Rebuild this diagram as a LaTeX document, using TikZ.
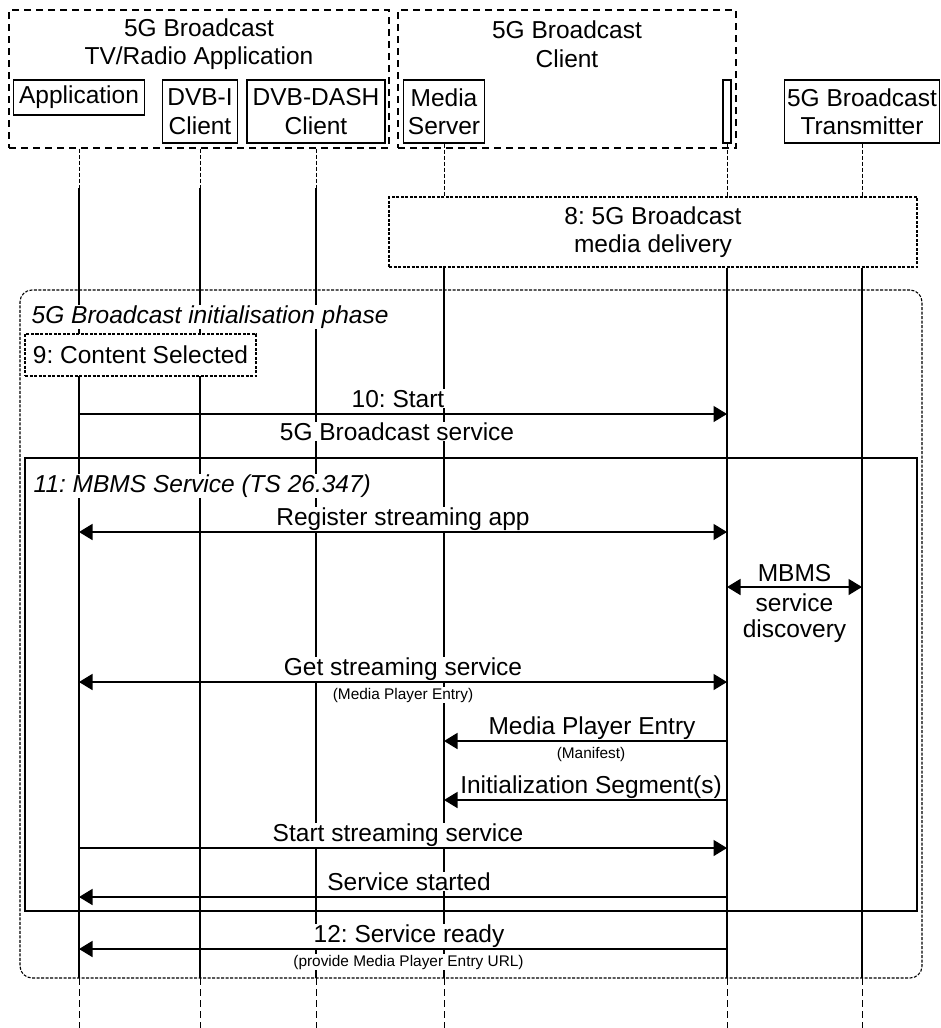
\documentclass[tikz,border=0pt]{standalone}
\usepackage{fontspec}
\setmainfont{Liberation Sans}
\usetikzlibrary{arrows.meta}
\frenchspacing

\tikzset{
  txt/.style={font=\fontsize{24.5}{28.5}\selectfont},
  ttl/.style={fill=white, inner sep=0.5pt, anchor=base west, font=\fontsize{24.5}{28.5}\selectfont\itshape},
  party/.style={draw, line width=1.3pt, inner sep=0pt, align=center, txt},
  grp/.style={draw, line width=1.3pt, dash pattern=on 7pt off 5pt},
  fine/.style={draw, line width=1.1pt, dash pattern=on 3pt off 1.5pt},
  life/.style={line width=1.3pt},
  lifedash/.style={line width=1pt, dash pattern=on 4pt off 2pt},
  lifeend/.style={line width=1pt, dash pattern=on 7pt off 4pt},
  lbl/.style={fill=white, inner sep=0.5pt, anchor=base, txt},
  over/.style={lbl, yshift=7pt},
  under/.style={lbl, yshift=-26pt},
  note/.style={fill=white, inner sep=0.5pt, anchor=base, yshift=-17pt, font=\fontsize{15.4}{18}\selectfont},
  msg/.style={line width=1.6pt, -{Triangle[length=13.5pt,width=16pt]}},
  dmsg/.style={line width=1.6pt, {Triangle[length=13.5pt,width=16pt]}-{Triangle[length=13.5pt,width=16pt]}},
}

\begin{document}
\begin{tikzpicture}[x=1pt, y=-1pt]
\useasboundingbox (0,0) rectangle (940,1028);

\node[grp, minimum width=380pt, minimum height=138pt] (grpapp) at (199,79) {};
\node[txt, align=center] (grpapptitle) at (199,44) {5G Broadcast\\TV/Radio Application};
\node[grp, minimum width=338pt, minimum height=138pt] (grpcl) at (567,79) {};
\node[txt, align=center] (grpcltitle) at (567,44) {5G Broadcast\\Client};

\node[party, minimum width=131pt, minimum height=35pt] (app) at (79,97.5) {Application};
\node[party, minimum width=75pt, minimum height=63pt] (dvbi) at (200,111.5) {DVB-I\\Client};
\node[party, minimum width=138pt, minimum height=63pt] (dash) at (316,111.5) {DVB-DASH\\Client};
\node[party, minimum width=81pt, minimum height=63pt] (ms) at (444,111.5) {Media\\Server};
\node[party, minimum width=8pt, minimum height=63pt] (cl) at (727,111.5) {};
\node[party, minimum width=155pt, minimum height=63pt] (tx) at (862,111.5) {5G Broadcast\\Transmitter};

\node[fine, fill=white, minimum width=528pt, minimum height=70pt, txt, align=center] (deliv) at (653,232) {8: 5G Broadcast\\media delivery};

\foreach \p in {app,dvbi,dash} {
  \draw[lifedash] (\p |- grpapp.south) -- (\p |- 0,188);
  \draw[life] (\p |- 0,188) -- (\p |- 0,978);
  \draw[lifeend] (\p |- 0,978) -- (\p |- 0,1028);
}
\foreach \p in {ms,cl,tx} {
  \draw[lifedash] (\p.south) -- (\p |- deliv.north);
  \draw[life] (\p |- deliv.south) -- (\p |- 0,978);
  \draw[lifeend] (\p |- 0,978) -- (\p |- 0,1028);
}

\node[fine, rounded corners=12pt, minimum width=902pt, minimum height=688pt] (phase) at (471,634) {};
\node[ttl] (phasetitle) at (31,323) {5G Broadcast initialisation phase};
\node[fine, fill=white, minimum width=231pt, minimum height=42pt, txt] (sel) at (140.5,355) {9: Content Selected};

\draw[msg] (app |- 0,414) -- node[over, xshift=-5pt] (start) {10: Start} node[under, xshift=-6pt] (startb) {5G Broadcast service} (cl |- 0,414);

\node[draw, line width=1.3pt, minimum width=892pt, minimum height=453pt] (mbms) at (471,684.5) {};
\node[ttl] (mbmstitle) at (33,492) {11: MBMS Service (TS 26.347)};

\draw[dmsg] (app |- 0,532) -- node[over] (reg) {Register streaming app} (cl |- 0,532);
\draw[dmsg] (cl |- 0,587) -- node[over, yshift=-1pt] (disca) {MBMS} (tx |- 0,587);
\node[txt, align=center, anchor=north, inner sep=0pt, font=\fontsize{24.5}{25.5}\selectfont] (disc) at (794.5,594) {service\\discovery};
\draw[dmsg] (app |- 0,682) -- node[over] (get) {Get streaming service} node[note] (getb) {(Media Player Entry)} (cl |- 0,682);
\draw[msg] (cl |- 0,741) -- node[over, xshift=6.5pt] (mpe) {Media Player Entry} node[note, xshift=5.5pt] (mpeb) {(Manifest)} (ms |- 0,741);
\draw[msg] (cl |- 0,800) -- node[over, xshift=5.5pt] (init) {Initialization Segment(s)} (ms |- 0,800);
\draw[msg] (app |- 0,848) -- node[over, xshift=-5pt] (sss) {Start streaming service} (cl |- 0,848);
\draw[msg] (cl |- 0,897) -- node[over, xshift=6pt] (started) {Service started} (app |- 0,897);

\draw[msg] (cl |- 0,949) -- node[over, xshift=6pt] (ready) {12: Service ready} node[note, xshift=5.5pt] (readyb) {(provide Media Player Entry URL)} (app |- 0,949);
\end{tikzpicture}
\end{document}
